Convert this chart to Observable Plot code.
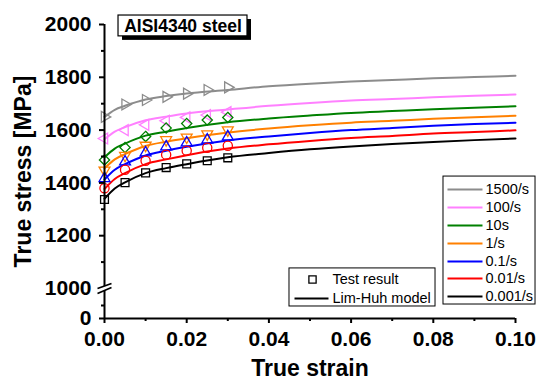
<!DOCTYPE html>
<html><head><meta charset="utf-8">
<script src="https://cdn.jsdelivr.net/npm/d3@7"></script>
<script src="https://cdn.jsdelivr.net/npm/@observablehq/plot@0.6"></script>
<style>html,body{margin:0;padding:0;background:#fff;}</style>
</head><body><div id="chart"></div>
<script>
// ---------- data ----------
const rateLabels = ["1500/s", "100/s", "10s", "1/s", "0.1/s", "0.01/s", "0.001/s"];

// Lim-Huh model curves (true strain vs true stress, MPa)
const curveStrain = [0, 0.0025, 0.005, 0.01, 0.015, 0.02, 0.03, 0.04, 0.05, 0.06, 0.07, 0.08, 0.09, 0.1];
const curve1500 = [1650, 1677, 1692, 1716, 1729, 1739, 1752, 1766, 1776, 1784, 1790, 1796, 1801, 1806];
const curve100  = [1565, 1594, 1611, 1637, 1651, 1663, 1678, 1692, 1703, 1712, 1718, 1724, 1730, 1735];
const curve10   = [1497, 1530, 1549, 1579, 1594, 1608, 1630, 1644, 1655, 1665, 1672, 1679, 1685, 1690];
const curve1    = [1455, 1489, 1509, 1540, 1556, 1569, 1591, 1606, 1618, 1628, 1635, 1643, 1649, 1654];
const curve01   = [1413, 1450, 1471, 1504, 1522, 1537, 1561, 1576, 1589, 1600, 1608, 1616, 1623, 1628];
const curve001  = [1377, 1415, 1437, 1471, 1489, 1505, 1530, 1546, 1559, 1570, 1578, 1587, 1593, 1599];
const curve0001 = [1340, 1379, 1402, 1437, 1456, 1471, 1497, 1513, 1527, 1538, 1547, 1555, 1562, 1568];

// Test results
const testStrain = [0, 0.005, 0.01, 0.015, 0.02, 0.025, 0.03];
const test1500 = [1650, 1697, 1714, 1726, 1738, 1752, 1762];
const test100  = [1568, 1600, 1620, 1635, 1648, 1657, 1668];
const test10   = [1487, 1534, 1576, 1608, 1625, 1638, 1648];
const test1    = [1448, 1504, 1542, 1563, 1573, 1585, 1600];
const test01   = [1417, 1480, 1514, 1537, 1552, 1563, 1575];
const test001  = [1380, 1450, 1484, 1507, 1522, 1533, 1541];
const test0001 = [1337, 1401, 1438, 1458, 1472, 1484, 1495];

// tick values
const xMajorTicks = [0, 0.02, 0.04, 0.06, 0.08, 0.10];
const xMinorTicks = [0.01, 0.03, 0.05, 0.07, 0.09];
const yMajorTicks = [0, 1000, 1200, 1400, 1600, 1800, 2000];
const yMinorTicks = [500, 1100, 1300, 1500, 1700, 1900];

// ---------- styles ----------
const rateColors  = ["#8c8c8c", "#ff80ff", "#008000", "#ff8000", "#0000ff", "#ff0000", "#000000"];
const rateSymbols = ["triangle2", "triangle2", "diamond2", "triangle2", "triangle2", "circle", "square2"];
const rateRotate  = [90, -90, 0, 180, 0, 0, 0];
const rateR       = [5.2, 5.2, 4.6, 5.2, 5.2, 4.6, 5];

const curves = [curve1500, curve100, curve10, curve1, curve01, curve001, curve0001];
const tests  = [test1500, test100, test10, test1, test01, test001, test0001];

const FONT = "'Liberation Sans', Arial, Helvetica, sans-serif";

// broken y axis: values below 1000 are compressed under a small gap
const BREAK = 1000, GAP = 15.2, SHRINK = 0.0985;
const yBreak = v => v >= BREAK ? v : BREAK - GAP - (BREAK - v) * SHRINK;

const lineMarks = curves.map((c, i) =>
  Plot.line(curveStrain.map((s, j) => ({strain: s, stress: c[j]})),
    {x: "strain", y: "stress", stroke: rateColors[i], strokeWidth: 2, curve: "monotone-x"}));

const dotMarks = tests.map((t, i) =>
  Plot.dot(testStrain.map((s, j) => ({strain: s, stress: t[j]})),
    {x: "strain", y: "stress", symbol: rateSymbols[i], rotate: rateRotate[i], r: rateR[i],
     stroke: rateColors[i], fill: "none", strokeWidth: 1.3}));

// axis break symbols
const breakMask = {draw(ctx) { ctx.moveTo(-7, 0); ctx.lineTo(7, -5); ctx.lineTo(7, -1); ctx.lineTo(-7, 5); ctx.closePath(); }};
const breakSlash = {draw(ctx) { ctx.moveTo(-7, 0); ctx.lineTo(7, -5); ctx.moveTo(-7, 5); ctx.lineTo(7, -1); }};

// legend (rates) rows in data space
const legendRowY = [1375, 1307, 1239, 1170, 1102, 1038, 846];
const rateLegend = rateLabels.map((l, i) => ({label: l, y: legendRowY[i]}));

const chart = Plot.plot({
  width: 540, height: 381,
  marginLeft: 104, marginRight: 25, marginTop: 24, marginBottom: 63,
  style: {fontFamily: FONT, background: "white", color: "black", overflow: "visible"},
  x: {domain: [0, 0.1]},
  y: {transform: yBreak, domain: [yBreak(0), 2000]},
  color: {domain: rateLabels, range: rateColors},
  marks: [
    // title box
    Plot.rect([0], {x1: 0.00341, x2: 0.03479, y1: 1955, y2: 2034, fill: "black", dx: 4, dy: 4}),
    Plot.rect([0], {x1: 0.00341, x2: 0.03479, y1: 1955, y2: 2034, fill: "white", stroke: "black", strokeWidth: 1.2}),
    Plot.text(["AISI4340 steel"], {x: 0.0191, y: 1994, fontSize: 17.5, fontWeight: "bold"}),

    ...lineMarks,
    ...dotMarks,

    // axes
    Plot.ruleY([0], {x1: 0, x2: 0.1, strokeWidth: 2}),
    Plot.ruleX([0], {y1: 0, y2: 2000, strokeWidth: 2}),
    Plot.axisX(xMajorTicks, {tickSize: 5, tickPadding: 8, strokeWidth: 2, tickFormat: d3.format(".2f"),
      fontSize: 21, fontWeight: "bold", label: null}),
    Plot.axisX(xMinorTicks, {tickSize: 3, strokeWidth: 2, tickFormat: () => "", label: null}),
    Plot.axisY(yMajorTicks, {tickSize: 5, tickPadding: 8, strokeWidth: 2, tickFormat: d => String(d),
      fontSize: 21, fontWeight: "bold", label: null}),
    Plot.axisY(yMinorTicks, {tickSize: 3, strokeWidth: 2, tickFormat: () => "", label: null}),
    Plot.dot([0], {x: 0, y: 1000, symbol: breakMask, fill: "white", stroke: "none"}),
    Plot.dot([0], {x: 0, y: 1000, symbol: breakSlash, fill: "none", stroke: "black", strokeWidth: 1.8}),

    // axis titles
    Plot.text(["True strain"], {frameAnchor: "bottom", dy: 50, lineAnchor: "middle", textAnchor: "middle", fontSize: 23, fontWeight: "bold"}),
    Plot.text(["True stress [MPa]"], {frameAnchor: "left", rotate: -90, dx: -81, lineAnchor: "middle", textAnchor: "middle", fontSize: 23, fontWeight: "bold"}),

    // legend: test result / model
    Plot.rect([0], {x1: 0.04501, x2: 0.08054, y1: 462, y2: 1076, fill: "white", stroke: "black", strokeWidth: 1}),
    Plot.dot([0], {x: 0.05061, y: 1034, symbol: "square2", r: 4.6, stroke: "black", fill: "none", strokeWidth: 1.3}),
    Plot.text(["Test result"], {x: 0.05547, y: 1034, textAnchor: "start", fontSize: 14.5}),
    Plot.link([0], {x1: 0.04623, x2: 0.0545, y1: 769, y2: 769, stroke: "black", strokeWidth: 2}),
    Plot.text(["Lim-Huh model"], {x: 0.05547, y: 769, textAnchor: "start", fontSize: 14.5}),

    // legend: strain rates
    Plot.rect([0], {x1: 0.08248, x2: 0.10487, y1: 538, y2: 1424, fill: "white", stroke: "black", strokeWidth: 1}),
    Plot.link(rateLegend, {x1: 0.08345, x2: 0.09197, y1: "y", y2: "y", stroke: "label", strokeWidth: 2}),
    Plot.text(rateLegend, {x: 0.0927, y: "y", text: "label", textAnchor: "start", fontSize: 14.5})
  ]
});
document.getElementById("chart").appendChild(chart);
</script>
</body></html>
